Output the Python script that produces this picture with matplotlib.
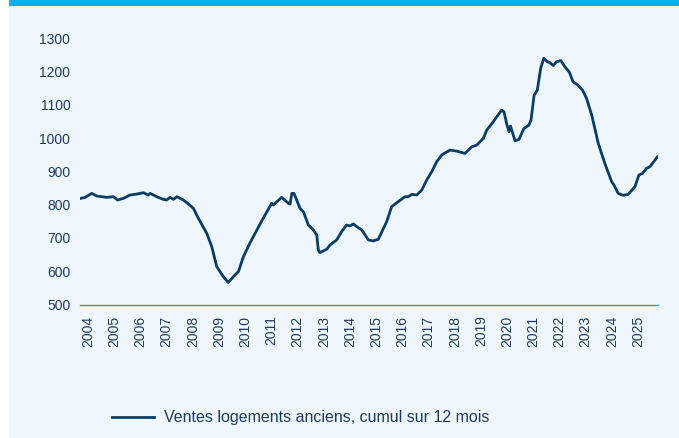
import matplotlib
matplotlib.use("Agg")
import matplotlib.pyplot as plt
from matplotlib.patches import Rectangle

# decimal year, 12-month cumulative sales (thousands)
years = [
    2003.72, 2003.89, 2004.14, 2004.33, 2004.71, 2004.97, 2005.12, 2005.35,
    2005.60, 2005.86, 2006.11, 2006.30, 2006.37, 2006.62, 2006.87, 2007.00,
    2007.13, 2007.26, 2007.39, 2007.64, 2007.83, 2008.02, 2008.21, 2008.53,
    2008.72, 2008.91, 2009.16, 2009.35, 2009.55, 2009.74, 2009.93, 2010.20,
    2010.69, 2011.01, 2011.07, 2011.39, 2011.65, 2011.71, 2011.78, 2011.86,
    2012.09, 2012.22, 2012.41, 2012.60, 2012.73, 2012.79, 2012.85, 2013.11,
    2013.24, 2013.49, 2013.68, 2013.87, 2014.00, 2014.13, 2014.26, 2014.45,
    2014.70, 2014.89, 2015.08, 2015.40, 2015.59, 2015.84, 2016.10, 2016.23,
    2016.36, 2016.55, 2016.74, 2016.93, 2017.12, 2017.31, 2017.51, 2017.82,
    2018.07, 2018.39, 2018.65, 2018.84, 2019.09, 2019.22, 2019.47, 2019.60,
    2019.79, 2019.88, 2019.98, 2020.07, 2020.13, 2020.30, 2020.45, 2020.64,
    2020.83, 2020.91, 2021.03, 2021.15, 2021.28, 2021.40, 2021.53, 2021.63,
    2021.76, 2021.89, 2022.05, 2022.21, 2022.37, 2022.52, 2022.71, 2022.88,
    2023.03, 2023.23, 2023.48, 2023.73, 2023.99, 2024.08, 2024.24, 2024.43,
    2024.62, 2024.88, 2025.03, 2025.17, 2025.32, 2025.45, 2025.74,
]
sales = [
    819, 822, 834, 826, 822, 824, 814, 819,
    829, 832, 836, 829, 834, 824, 816, 814,
    822, 816, 824, 814, 802, 789, 759, 714,
    674, 614, 584, 566, 584, 599, 644, 688,
    760, 804, 799, 822, 804, 802, 834, 834,
    789, 779, 739, 724, 709, 664, 656, 666,
    679, 694, 719, 739, 736, 742, 734, 724,
    694, 691, 696, 749, 794, 809, 824, 824,
    831, 829, 844, 874, 899, 929, 950, 964,
    961, 954, 974, 979, 999, 1024, 1049, 1064,
    1084, 1079, 1044, 1019, 1036, 992, 996, 1029,
    1039, 1054, 1129, 1144, 1210, 1240, 1230, 1227,
    1218, 1230, 1233, 1214, 1199, 1169, 1159, 1144,
    1120, 1069, 984, 924, 869, 859, 834, 828,
    831, 854, 889, 894, 909, 914, 944,
]
tick_years = list(range(2004, 2026))
y_ticks = [500, 600, 700, 800, 900, 1000, 1100, 1200, 1300]
label = "Ventes logements anciens, cumul sur 12 mois"

NAVY = "#0b3c66"
TEXT = "#1f3a5f"
CYAN = "#00b0f0"
AXIS = "#1fa0dc"
PANEL = "#eff7fe"

plt.rcParams["font.family"] = ["Liberation Sans", "DejaVu Sans"]

W, H = 679, 438
fig = plt.figure(figsize=(W / 100, H / 100), dpi=100, facecolor="white")

# panel background and top band, kept behind the axes
fig.patches.append(Rectangle((9 / W, 0), 1 - 9 / W, 1, transform=fig.transFigure,
                             facecolor=PANEL, edgecolor="none", zorder=-2))
fig.patches.append(Rectangle((9 / W, 1 - 6 / H), 1 - 9 / W, 6 / H, transform=fig.transFigure,
                             facecolor=CYAN, edgecolor="none", zorder=-1))

left, right = 80 / W, 658 / W
bottom, top = 1 - 304.5 / H, 1 - 38.3 / H
ax = fig.add_axes([left, bottom, right - left, top - bottom])
ax.set_facecolor("none")

ax.plot(years, sales, color=NAVY, linewidth=2.0, label=label, solid_joinstyle="round")

ax.set_xlim(2003.69, 2025.76)
ax.set_ylim(500, 1300)
ax.set_xticks(tick_years)
ax.set_xticklabels([str(y) for y in tick_years], rotation=90, fontsize=10, color=TEXT)
ax.set_yticks(y_ticks)
ax.set_yticklabels([str(v) for v in y_ticks], fontsize=10, color=TEXT)
ax.tick_params(axis="both", length=0)
ax.tick_params(axis="y", pad=7)
ax.tick_params(axis="x", pad=8)

for side in ("top", "right", "left"):
    ax.spines[side].set_visible(False)
ax.spines["bottom"].set_color(AXIS)
ax.spines["bottom"].set_linewidth(1.0)

fig.legend(loc="center left", bbox_to_anchor=(112 / W, 1 - 417.7 / H),
           frameon=False, fontsize=11.5, handlelength=2.6, handletextpad=0.65,
           borderpad=0, borderaxespad=0, labelcolor=TEXT)

fig.savefig("out.png", dpi=100, facecolor=fig.get_facecolor())
